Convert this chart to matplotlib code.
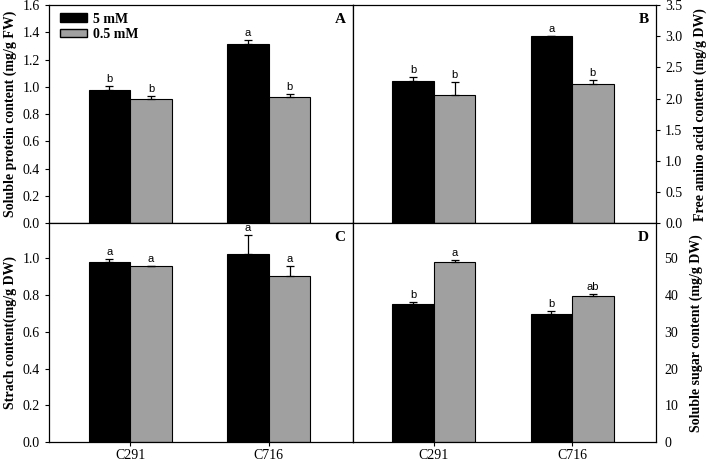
import matplotlib

matplotlib.use("Agg")

import matplotlib.pyplot as plt  # noqa: E402
from matplotlib.patches import Patch  # noqa: E402

CULTIVARS = ["C291", "C716"]
SERIES = ["5 mM", "0.5 mM"]

# panel A: soluble protein (mg/g FW)
protein_5 = [0.974, 1.316]
protein_5_err = [0.032, 0.027]
protein_05 = [0.908, 0.928]
protein_05_err = [0.025, 0.017]
protein_5_sig = ["b", "a"]
protein_05_sig = ["b", "b"]

# panel B: free amino acid (mg/g DW)
amino_5 = [2.29, 3.00]
amino_5_err = [0.05, 0.01]
amino_05 = [2.06, 2.24]
amino_05_err = [0.21, 0.06]
amino_5_sig = ["b", "a"]
amino_05_sig = ["b", "b"]

# panel C: starch (mg/g DW)
starch_5 = [0.982, 1.025]
starch_5_err = [0.016, 0.100]
starch_05 = [0.958, 0.905]
starch_05_err = [0.0, 0.052]
starch_5_sig = ["a", "a"]
starch_05_sig = ["a", "a"]

# panel D: soluble sugar (mg/g DW)
sugar_5 = [37.7, 34.8]
sugar_5_err = [0.5, 0.9]
sugar_05 = [48.9, 39.7]
sugar_05_err = [0.5, 0.7]
sugar_5_sig = ["b", "b"]
sugar_05_sig = ["a", "ab"]

SERIF = "Liberation Serif"
SANS = "Liberation Sans"
BLACK = "#000000"
GRAY = "#a0a0a0"
BAR_W = 0.30
X = [0, 1]

fig = plt.figure(figsize=(7.08, 4.61), dpi=100)
plt.rcParams["font.family"] = SERIF

L, M, R = 0.0692, 0.4986, 0.9266
B, H, T = 0.0406, 0.5156, 0.989
ax_a = fig.add_axes([L, H, M - L, T - H])
ax_b = fig.add_axes([M, H, R - M, T - H])
ax_c = fig.add_axes([L, B, M - L, H - B])
ax_d = fig.add_axes([M, B, R - M, H - B])

panels = [
    (ax_a, "A", protein_5, protein_5_err, protein_05, protein_05_err,
     protein_5_sig, protein_05_sig, 1.6, [0, 0.2, 0.4, 0.6, 0.8, 1.0, 1.2, 1.4, 1.6],
     "Soluble protein content (mg/g FW)", "{:.1f}"),
    (ax_b, "B", amino_5, amino_5_err, amino_05, amino_05_err,
     amino_5_sig, amino_05_sig, 3.5, [0, 0.5, 1.0, 1.5, 2.0, 2.5, 3.0, 3.5],
     "Free amino acid content (mg/g DW)", "{:.1f}"),
    (ax_c, "C", starch_5, starch_5_err, starch_05, starch_05_err,
     starch_5_sig, starch_05_sig, 1.19, [0, 0.2, 0.4, 0.6, 0.8, 1.0],
     "Strach content(mg/g DW)", "{:.1f}"),
    (ax_d, "D", sugar_5, sugar_5_err, sugar_05, sugar_05_err,
     sugar_5_sig, sugar_05_sig, 59.5, [0, 10, 20, 30, 40, 50],
     "Soluble sugar content (mg/g DW)", "{:.0f}"),
]

for ax, tag, v5, e5, v05, e05, s5, s05, ymax, yticks, ylabel, fmt in panels:
    x5 = [x - BAR_W / 2 for x in X]
    x05 = [x + BAR_W / 2 for x in X]
    ax.bar(x5, v5, BAR_W, color=BLACK, edgecolor=BLACK, linewidth=0.8, zorder=2)
    ax.bar(x05, v05, BAR_W, color=GRAY, edgecolor=BLACK, linewidth=0.8, zorder=2)
    for xs, vs, es in [(x5, v5, e5), (x05, v05, e05)]:
        ax.errorbar(xs, vs, yerr=[[0] * len(es), es], fmt="none", ecolor=BLACK,
                    elinewidth=0.9, capsize=3, capthick=0.9, zorder=3)
    for xs, vs, es, sig in [(x5, v5, e5, s5), (x05, v05, e05, s05)]:
        for xv, yv, ev, s in zip(xs, vs, es, sig):
            ax.annotate(s, (xv, yv + ev), textcoords="offset points", xytext=(0, 1.5),
                        ha="center", va="bottom", fontsize=8, family=SANS)

    ax.set_xlim(-0.585, 1.607)
    ax.set_ylim(0, ymax)
    ax.set_yticks(yticks)
    ax.set_yticklabels([fmt.format(t) for t in yticks], fontsize=10)
    ax.set_ylabel(ylabel, fontsize=10, fontweight="bold")
    ax.tick_params(axis="y", direction="out", length=3, width=0.8)
    for spine in ax.spines.values():
        spine.set_linewidth(0.9)
    ax.text(0.975, 0.965, tag, transform=ax.transAxes, ha="right", va="top",
            fontsize=11, fontweight="bold")

    if tag in ("B", "D"):
        ax.yaxis.tick_right()
        ax.yaxis.set_label_position("right")
        ax.set_ylabel(ylabel, fontsize=10, fontweight="bold", labelpad=8)
    if tag in ("A", "B"):
        ax.set_xticks([])
    else:
        ax.set_xticks(X)
        ax.set_xticklabels(CULTIVARS, fontsize=10)
        ax.tick_params(axis="x", direction="out", length=3, width=0.8, pad=2)

ax_d.tick_params(axis="y", length=0, pad=6)

ax_a.legend(
    [Patch(facecolor=BLACK, edgecolor=BLACK), Patch(facecolor=GRAY, edgecolor=BLACK)],
    SERIES,
    loc="upper left",
    bbox_to_anchor=(-0.005, 1.022),
    frameon=False,
    prop={"family": SERIF, "weight": "bold", "size": 10},
    handlelength=1.95,
    handleheight=0.6,
    handletextpad=0.45,
    labelspacing=0.15,
)

fig.savefig("out.png", dpi=100)
